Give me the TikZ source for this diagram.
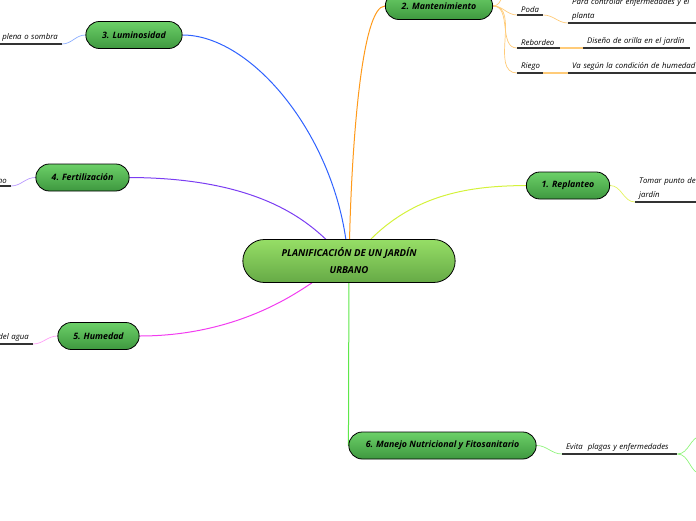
\documentclass[tikz,border=0pt]{standalone}
\usepackage{fontspec}
\setmainfont{Open Sans}
\usetikzlibrary{shapes.misc,backgrounds}

\definecolor{rootTop}{HTML}{96DE66}
\definecolor{rootBot}{HTML}{66AA46}
\definecolor{topicTop}{HTML}{6CD068}
\definecolor{topicBot}{HTML}{3E983F}
\definecolor{bluA}{HTML}{2F62FF}
\definecolor{bluB}{HTML}{8CAEFF}
\definecolor{oraA}{HTML}{FF9A1A}
\definecolor{oraB}{HTML}{FFCB78}
\definecolor{yelA}{HTML}{D4F23A}
\definecolor{yelB}{HTML}{E4F460}
\definecolor{purA}{HTML}{7B3DF2}
\definecolor{purB}{HTML}{B898FF}
\definecolor{magA}{HTML}{F23CF0}
\definecolor{magB}{HTML}{FF9EF6}
\definecolor{grnA}{HTML}{5EE84A}
\definecolor{grnB}{HTML}{90F47C}

\tikzset{
  root/.style={rounded rectangle, draw=black, line width=0.8pt,
    top color=rootTop, bottom color=rootBot, minimum width=219pt,
    minimum height=43pt, align=center,
    font=\bfseries\itshape\fontsize{9.6}{17}\selectfont},
  topic/.style={rounded rectangle, draw=black, line width=0.8pt,
    top color=topicTop, bottom color=topicBot, minimum height=27pt,
    font=\bfseries\itshape\fontsize{8.8}{10}\selectfont},
  leaf/.style={font=\itshape\fontsize{7.8}{14}\selectfont,
    inner xsep=4pt, inner ysep=2pt, anchor=south west, align=left},
  leftleaf/.style={leaf, anchor=south east, align=right},
  uline/.style={line width=1.6pt, draw=black!80},
  limb/.style={line width=1pt},
  twig/.style={line width=0.7pt},
}

\begin{document}
\begin{tikzpicture}[x=1pt,y=-1pt]
    \useasboundingbox (0,0) rectangle (696,520);

    % Central idea and main topics
    \node[root] (plan) at (349,261) {PLANIFICACIÓN DE UN JARDÍN\\URBANO};
    \node[topic, minimum width=90pt] (repl) at (568,185.5) {1. Replanteo};
    \node[topic, minimum width=114pt] (mant) at (439,6) {2. Mantenimiento};
    \node[topic, minimum width=103pt] (lumi) at (134,35) {3. Luminosidad};
    \node[topic, minimum width=100pt] (fert) at (82.5,177.5) {4. Fertilización};
    \node[topic, minimum width=88pt] (hume) at (98.5,336) {5. Humedad};
    \node[topic, minimum width=194pt] (mane) at (442.5,445.5) {6. Manejo Nutricional y Fitosanitario};

    % Leaves
    \node[leaf, text width=72pt] (tomar) at (635,202) {Tomar punto de\\jardín};
    \node[leaf, text width=18pt] (poda) at (517,15) {Poda};
    \node[leaf, text width=140pt] (para) at (568,23) {Para controlar enfermedades y el\\planta};
    \node[leaf, text width=35pt] (rebo) at (517,48) {Rebordeo};
    \node[leaf, text width=99pt] (dise) at (583,48) {Diseño de orilla en el jardín};
    \node[leaf, text width=18pt] (rieg) at (517,73) {Riego};
    \node[leaf, text width=140pt] (vasg) at (568,73) {Va según la condición de humedad};
    \node[leftleaf, text width=60pt] (plena) at (62,44) {plena o sombra};
    \node[leftleaf, text width=30pt] (abono) at (11,186) {no};
    \node[leftleaf, text width=40pt] (agua) at (33,344) {del agua};
    \node[leaf, text width=107pt] (evit) at (562,454) {Evita~ plagas y enfermedades};

    % Off-page ends
    \coordinate (mantup) at (512,-14);
    \coordinate (evup) at (702,436);
    \coordinate (evdn) at (702,474);

    % Underlines
    \foreach \n in {tomar,poda,para,rebo,dise,rieg,vasg,plena,abono,agua,evit}
        \draw[uline] (\n.south west) -- (\n.south east);

    \begin{scope}[on background layer]
    % Main branches
    \draw[limb, yelA] (plan) .. controls (420,190) and (480,186) .. (repl.west);
    \draw[limb, oraA] (plan) .. controls (352,140) and (362,6) .. (mant.west);
    \draw[limb, bluA] (lumi.east) .. controls (250,35) and (330,130) .. (plan);
    \draw[limb, purA] (fert.east) .. controls (250,178) and (300,215) .. (plan);
    \draw[limb, magA] (hume.east) .. controls (240,336) and (300,290) .. (plan);
    \draw[limb, grnA] (plan) -- (mane.west);

    % Twigs
    \draw[twig, yelB] (repl.east) to[out=0,in=180] (tomar.south west);
    \draw[twig, oraB] (mant.east) to[out=0,in=180] (mantup);
    \draw[twig, oraB] (mant.east) to[out=0,in=180] (poda.south west);
    \draw[twig, oraB] (mant.east) to[out=0,in=180] (rebo.south west);
    \draw[twig, oraB] (mant.east) to[out=0,in=180] (rieg.south west);
    \draw[twig, oraB] (poda.south east) to[out=0,in=180] (para.south west);
    \draw[uline, oraB] (rebo.south east) -- (dise.south west);
    \draw[uline, oraB] (rieg.south east) -- (vasg.south west);
    \draw[twig, bluB] (lumi.west) to[out=180,in=0] (plena.south east);
    \draw[twig, purB] (fert.west) to[out=180,in=0] (abono.south east);
    \draw[twig, magB] (hume.west) to[out=180,in=0] (agua.south east);
    \draw[twig, grnB] (mane.east) to[out=0,in=180] (evit.south west);
    \draw[twig, grnB] (evit.south east) to[out=0,in=180] (evup);
    \draw[twig, grnB] (evit.south east) to[out=0,in=180] (evdn);
    \end{scope}
\end{tikzpicture}
\end{document}
